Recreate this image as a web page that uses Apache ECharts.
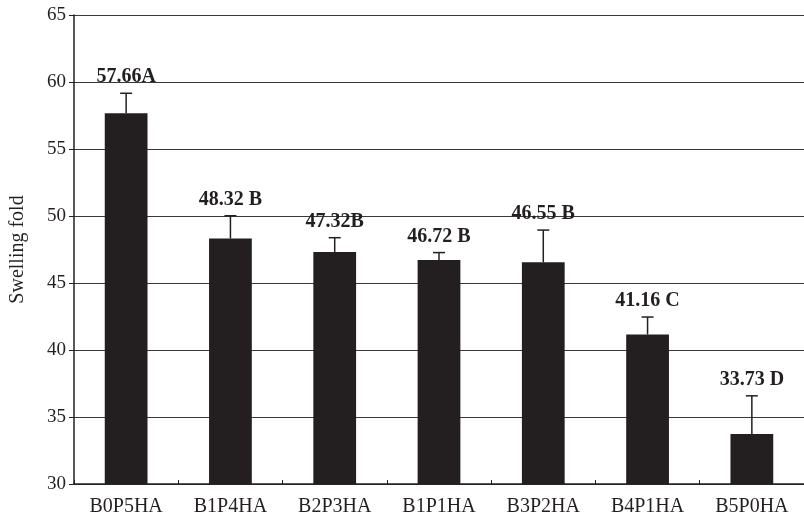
<!DOCTYPE html>
<html><head><meta charset="utf-8">
<script src="https://cdn.jsdelivr.net/npm/echarts@6/dist/echarts.min.js"></script>
<style>html,body{margin:0;padding:0;background:#fff}#c{width:804px;height:521px}</style>
</head><body><div id="c"></div>
<script>
var categories = ['B0P5HA','B1P4HA','B2P3HA','B1P1HA','B3P2HA','B4P1HA','B5P0HA'];
var values = [57.66, 48.32, 47.32, 46.72, 46.55, 41.16, 33.73];
var errors = [1.5, 1.7, 1.06, 0.55, 2.4, 1.3, 2.85];
var letters = ['A', ' B', 'B', ' B', ' B', ' C', ' D'];
var yTicks = [30, 35, 40, 45, 50, 55, 60, 65];

var chart = echarts.init(document.getElementById('c'), null, {renderer:'canvas'});
var serif = '"Liberation Serif","Times New Roman",serif';
chart.setOption({
  animation:false,
  backgroundColor:'#fff',
  grid:{left:73, right:-5, top:15, bottom:37},
  xAxis:{
    type:'category', data:categories,
    axisLine:{lineStyle:{color:'#231f20', width:1.5}},
    axisTick:{show:true, inside:true, length:4, lineStyle:{color:'#231f20'}},
    axisLabel:{color:'#231f20', fontFamily:serif, fontSize:20, margin:13}
  },
  yAxis:{
    type:'value', min:yTicks[0], max:yTicks[yTicks.length-1], interval:5,
    name:'Swelling fold', nameLocation:'middle', nameGap:46, nameRotate:90,
    nameTextStyle:{color:'#231f20', fontFamily:serif, fontSize:20},
    axisLine:{show:true, lineStyle:{color:'#231f20', width:1.5}},
    axisTick:{show:true, length:5, lineStyle:{color:'#231f20'}},
    axisLabel:{color:'#231f20', fontFamily:serif, fontSize:19, margin:8},
    splitLine:{show:true, lineStyle:{color:'#3a3a3a', width:1.2}}
  },
  series:[
    {type:'bar', data:values, barWidth:'41%', itemStyle:{color:'#231f20'}, z:2},
    {type:'custom', z:3,
     data:values.map(function(v,i){return [i, v, errors[i]];}),
     renderItem:function(params, api){
       var i = api.value(0), v = api.value(1), e = api.value(2);
       var p0 = api.coord([i, v]);
       var p1 = api.coord([i, v + e]);
       var hw = 6;
       return {type:'group', children:[
         {type:'line', shape:{x1:p0[0], y1:p0[1], x2:p1[0], y2:p1[1]}, style:{stroke:'#231f20', lineWidth:1.5}},
         {type:'line', shape:{x1:p1[0]-hw, y1:p1[1], x2:p1[0]+hw, y2:p1[1]}, style:{stroke:'#231f20', lineWidth:1.5}},
         {type:'text', x:p1[0], y:p1[1]-6, style:{
            text: values[params.dataIndex].toFixed(2) + letters[params.dataIndex],
            fill:'#231f20', font:'bold 20px ' + serif, align:'center', verticalAlign:'bottom'}}
       ]};
     }
    }
  ]
});
</script></body></html>
